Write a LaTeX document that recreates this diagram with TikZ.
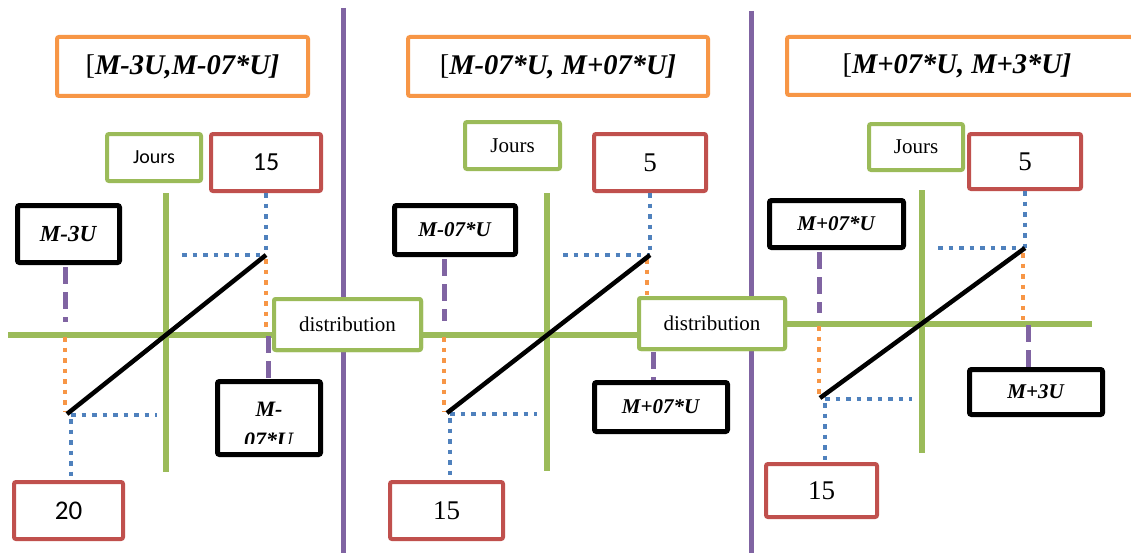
\documentclass[tikz,border=0pt]{standalone}
\usepackage{fontspec}
\setmainfont{Liberation Serif}
\newfontfamily\calibri{Carlito}
\definecolor{orangeC}{HTML}{F79646}
\definecolor{greenC}{HTML}{9BBB59}
\definecolor{redC}{HTML}{C0504D}
\definecolor{purpleC}{HTML}{8064A2}
\definecolor{blueC}{HTML}{4F81BD}
\newcommand\bi[1]{\textbf{\textit{#1}}}
\begin{document}
\begin{tikzpicture}[x=1pt,y=-1pt,
  box/.style={rounded corners=2pt, fill=white, line width=4pt, inner sep=0pt, align=center},
  titlebox/.style={box, draw=orangeC, font=\fontsize{28.5}{32}\selectfont},
  joursbox/.style={box, draw=greenC, font=\fontsize{21}{24}\selectfont},
  redbox/.style={box, draw=redC, font=\fontsize{27}{30}\selectfont},
  blackbox/.style={box, draw=black, line width=5pt, font=\fontsize{21}{24}\selectfont},
  distbox/.style={box, draw=greenC, font=\fontsize{21}{24}\selectfont},
  axis/.style={draw=greenC, line width=6pt},
  sep/.style={draw=purpleC, line width=5pt},
  bdot/.style={draw=blueC, line width=4.5pt, dash pattern=on 4.5pt off 6pt},
  odot/.style={draw=orangeC, line width=4.5pt, dash pattern=on 4.5pt off 6pt},
  pdash/.style={draw=purpleC, line width=5pt, dash pattern=on 17pt off 8pt},
  diag/.style={draw=black, line width=4.5pt}]
\useasboundingbox (0,0) rectangle (1131,559);
\fill[white] (0,0) rectangle (1131,559);

% purple separators between the three intervals
\coordinate (s1t) at (343,8);   \coordinate (s1b) at (343,553);
\coordinate (s2t) at (751,11);  \coordinate (s2b) at (751,553);
\draw[sep] (s1t) -- (s1b);
\draw[sep] (s2t) -- (s2b);

% green axes
\coordinate (v1t) at (166,193); \coordinate (v1b) at (166,472);
\coordinate (v2t) at (547,193); \coordinate (v2b) at (547,471);
\coordinate (v3t) at (922,190); \coordinate (v3b) at (922,453);
\draw[axis] (v1t) -- (v1b);
\draw[axis] (v2t) -- (v2b);
\draw[axis] (v3t) -- (v3b);

% interval titles
\node[titlebox, minimum width=251pt, minimum height=59pt] (t1) at (182.5,66.5) {[\bi{M-3U,M-07*U]}};
\node[titlebox, minimum width=300pt, minimum height=59pt] (t2) at (558,66.5) {[\bi{M-07*U, M+07*U]}};
\node[titlebox, minimum width=346pt, minimum height=58pt] (t3) at (960,66) {[\bi{M+07*U, M+3*U]}\hspace*{6pt}};

% horizontal axis through the two distribution boxes
\coordinate (h0) at (8,335);
\coordinate (h3) at (1092,323.5);
\path (347.5,324.5) node[distbox, minimum width=147pt, minimum height=51pt] (dist1) {};
\path (712,323.5) node[distbox, minimum width=146pt, minimum height=51pt] (dist2) {};
\draw[axis] (h0) -- (h0 -| dist1.west);
\draw[axis] (dist1.east |- h0) -- (dist2.west |- h0);
\draw[axis] (dist2.east |- h3) -- (h3);

% ---- first interval ----
\coordinate (c1) at (266,255);
\coordinate (g1) at (182,255);
\coordinate (d1) at (67,414);
\coordinate (o1) at (266,259);
\coordinate (o1b) at (266,331);
\coordinate (p1) at (268,336);
\coordinate (q1t) at (65,267);
\coordinate (q1b) at (65,322);
\coordinate (r1t) at (65,337);
\coordinate (r1b) at (65,412);
\coordinate (e1) at (157,415);
\coordinate (f1) at (71,419);
\node[redbox, font=\calibri\fontsize{26}{30}\selectfont, minimum width=110pt, minimum height=57pt] (n15a) at (266,162.5) {15};
\node[joursbox, font=\calibri\fontsize{20}{24}\selectfont, minimum width=94pt, minimum height=47pt] (j1) at (154,157.5) {Jours};
\node[blackbox, font=\fontsize{23}{26}\selectfont, minimum width=102pt, minimum height=57pt] (m3u) at (68.5,234) {\bi{M-3U}};
\node[redbox, font=\calibri\fontsize{27}{30}\selectfont, minimum width=109pt, minimum height=57pt] (n20) at (68.5,510.5) {20};
\node[blackbox, minimum width=103pt, minimum height=73pt] (m07a) at (269,418) {};
\draw[bdot] (n15a.south) -- (c1);
\draw[bdot] (g1) -- (c1);
\draw[odot] (o1) -- (o1b);
\draw[pdash] (p1) -- (p1 |- m07a.north);
\draw[pdash] (q1t) -- (q1b);
\draw[odot] (r1t) -- (r1b);
\draw[bdot] (f1 |- e1) -- (e1);
\draw[bdot] (f1) -- (n20.north -| f1);
\draw[diag] (c1) -- (d1);

\begin{scope}
  \clip (215,382) rectangle (323,443);
  \node[anchor=base, font=\fontsize{22}{26}\selectfont] (m07al1) at (269,416) {\bi{M-}};
  \node[anchor=base, font=\fontsize{22}{26}\selectfont] (m07al2) at (269,447) {\bi{07*U}};
\end{scope}

% ---- second interval ----
\coordinate (c2) at (650,255);
\coordinate (g2) at (563,255);
\coordinate (d2) at (447,413);
\coordinate (o2) at (647,259);
\coordinate (p2) at (653,352);
\coordinate (q2t) at (444,259);
\coordinate (q2b) at (444,321);
\coordinate (r2t) at (444,337);
\coordinate (r2b) at (444,411);
\coordinate (e2) at (537,414);
\coordinate (f2) at (450,418);
\node[redbox, minimum width=112pt, minimum height=57pt] (n5b) at (650,162.5) {5};
\node[joursbox, minimum width=95pt, minimum height=47pt] (j2) at (512.5,145.5) {Jours};
\node[blackbox, minimum width=121pt, minimum height=49pt] (m07b) at (455,230) {\bi{M-07*U}};
\node[blackbox, minimum width=133pt, minimum height=49pt] (mp07b) at (661,407) {\bi{M+07*U}};
\node[redbox, minimum width=113pt, minimum height=57pt] (n15b) at (446.5,510.5) {15};
\draw[bdot] (n5b.south) -- (c2);
\draw[bdot] (g2) -- (c2);
\draw[odot] (o2) -- (o2 |- dist2.north);
\draw[pdash] (p2) -- (p2 |- mp07b.north);
\draw[pdash] (q2t) -- (q2b);
\draw[odot] (r2t) -- (r2b);
\draw[bdot] (f2 |- e2) -- (e2);
\draw[bdot] (f2) -- (n15b.north -| f2);
\draw[diag] (c2) -- (d2);

% ---- third interval ----
\coordinate (c3) at (1025,248);
\coordinate (g3) at (938,248);
\coordinate (d3) at (820,398);
\coordinate (o3) at (1023,253);
\coordinate (o3b) at (1023,320);
\coordinate (p3) at (1028,325);
\coordinate (q3t) at (819,252);
\coordinate (q3b) at (819,313);
\coordinate (r3t) at (819,326);
\coordinate (r3b) at (819,394);
\coordinate (e3) at (912,399);
\coordinate (f3) at (825,403);
\node[redbox, minimum width=112pt, minimum height=55pt] (n5c) at (1025,161.5) {5};
\node[joursbox, minimum width=94pt, minimum height=46pt] (j3) at (916,147) {Jours};
\node[blackbox, minimum width=134pt, minimum height=47pt] (mp07c) at (836.5,224) {\bi{M+07*U}};
\node[blackbox, minimum width=133pt, minimum height=45pt] (mp3u) at (1036,392) {\bi{M+3U}};
\node[redbox, minimum width=111pt, minimum height=53pt] (n15c) at (821.5,490.5) {15};
\draw[bdot] (n5c.south) -- (c3);
\draw[bdot] (g3) -- (c3);
\draw[odot] (o3) -- (o3b);
\draw[pdash] (p3) -- (p3 |- mp3u.north);
\draw[pdash] (q3t) -- (q3b);
\draw[odot] (r3t) -- (r3b);
\draw[bdot] (f3 |- e3) -- (e3);
\draw[bdot] (f3) -- (n15c.north -| f3);
\draw[diag] (c3) -- (d3);

% distribution boxes drawn on top of the guide lines
\node[distbox, minimum width=147pt, minimum height=51pt] (dist1t) at (dist1) {distribution};
\node[distbox, minimum width=146pt, minimum height=51pt] (dist2t) at (dist2) {distribution};
\end{tikzpicture}
\end{document}
